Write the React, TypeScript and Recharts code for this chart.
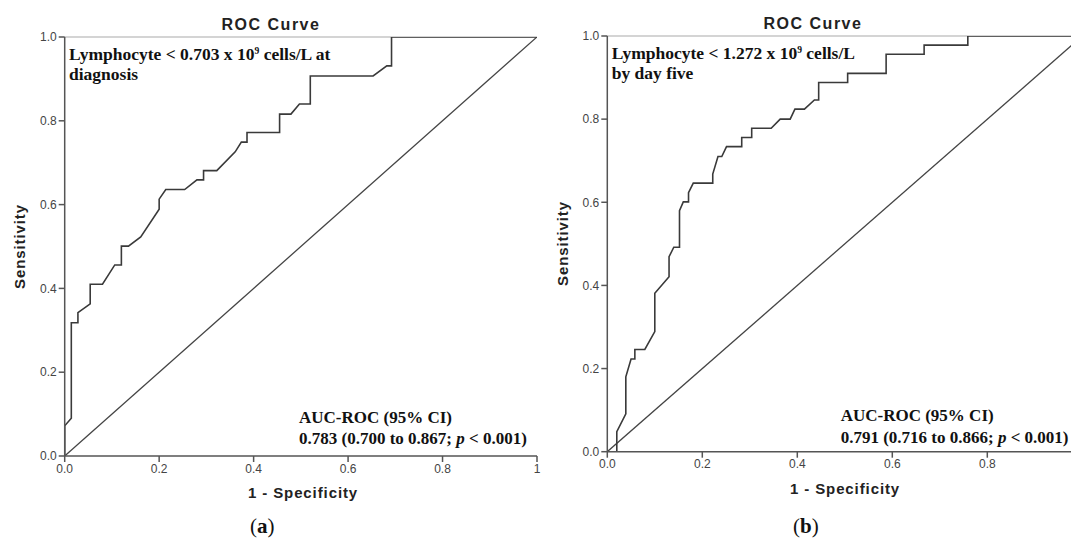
import { LineChart, Line, XAxis, YAxis, ReferenceLine } from 'recharts';

const axisTicks = [0, 0.2, 0.4, 0.6, 0.8, 1];
// the right-hand panel is cut at the page edge before its last tick
const axisTicksB = [0, 0.2, 0.4, 0.6, 0.8];

// (a) lymphocyte count at diagnosis
const fprA = [0, 0, 0.014, 0.014, 0.028, 0.028, 0.054, 0.054, 0.08, 0.106, 0.12, 0.12, 0.135, 0.161, 0.2, 0.2, 0.214, 0.254, 0.28, 0.294, 0.294, 0.322, 0.361, 0.374, 0.386, 0.386, 0.455, 0.455, 0.479, 0.497, 0.52, 0.52, 0.653, 0.682, 0.692, 0.692, 1];
const tprA = [0, 0.072, 0.09, 0.318, 0.318, 0.342, 0.363, 0.41, 0.41, 0.456, 0.456, 0.501, 0.501, 0.523, 0.589, 0.613, 0.636, 0.636, 0.659, 0.659, 0.681, 0.681, 0.726, 0.749, 0.749, 0.772, 0.772, 0.816, 0.816, 0.84, 0.84, 0.907, 0.907, 0.931, 0.931, 1, 1];

// (b) lymphocyte count by day five
const fprB = [0, 0.02, 0.02, 0.039, 0.039, 0.05, 0.058, 0.058, 0.079, 0.1, 0.1, 0.13, 0.13, 0.14, 0.152, 0.152, 0.16, 0.171, 0.171, 0.181, 0.222, 0.222, 0.233, 0.241, 0.251, 0.283, 0.283, 0.304, 0.304, 0.345, 0.364, 0.385, 0.395, 0.415, 0.436, 0.445, 0.445, 0.506, 0.506, 0.587, 0.587, 0.667, 0.667, 0.759, 0.759, 1];
const tprB = [0, 0, 0.048, 0.091, 0.18, 0.223, 0.223, 0.246, 0.246, 0.289, 0.381, 0.421, 0.469, 0.492, 0.492, 0.58, 0.601, 0.601, 0.623, 0.646, 0.646, 0.668, 0.71, 0.71, 0.734, 0.734, 0.756, 0.756, 0.778, 0.778, 0.8, 0.8, 0.824, 0.824, 0.846, 0.846, 0.888, 0.888, 0.91, 0.91, 0.956, 0.956, 0.978, 0.978, 1, 1];

// reference (chance) line
const chanceX = [0, 1];
const chanceY = [0, 1];

const toPoints = (xs: number[], ys: number[]) => xs.map((x, i) => ({ x, y: ys[i] }));

const sans = '"Liberation Sans", Arial, Helvetica, sans-serif';
const serif = '"Palatino Linotype", Palatino, "Book Antiqua", "Liberation Serif", serif';

const tickStyle = { fill: '#444', fontSize: 12, fontFamily: sans };

type PanelProps = {
  left: number;
  width: number;
  margin: { top: number; right: number; bottom: number; left: number };
  fpr: number[];
  tpr: number[];
  xTicks: number[];
  xFormat: (v: number) => string;
};

function RocPanel({ left, width, margin, fpr, tpr, xTicks, xFormat }: PanelProps) {
  return (
    <div style={{ position: 'absolute', left, top: 0 }}>
      <LineChart width={width} height={541} data={toPoints(fpr, tpr)} margin={margin}>
        <XAxis
          dataKey="x"
          type="number"
          domain={[0, 1]}
          ticks={xTicks}
          tickFormatter={xFormat}
          height={30}
          tickSize={6}
          tickMargin={2}
          tick={tickStyle}
          stroke="#555"
          strokeWidth={1.5}
          allowDataOverflow
        />
        <YAxis
          type="number"
          domain={[0, 1]}
          ticks={axisTicks}
          tickFormatter={(v: number) => v.toFixed(1)}
          width={40}
          tickSize={6}
          tickMargin={2}
          tick={tickStyle}
          stroke="#555"
          strokeWidth={1.5}
          allowDataOverflow
        />
        <ReferenceLine y={1} stroke="#aaa" strokeWidth={1.2} />
        <Line
          data={toPoints(chanceX, chanceY)}
          dataKey="y"
          type="linear"
          stroke="#444"
          strokeWidth={1.3}
          dot={false}
          isAnimationActive={false}
        />
        <Line
          dataKey="y"
          type="linear"
          stroke="#3a3a3a"
          strokeWidth={1.6}
          dot={false}
          isAnimationActive={false}
        />
      </LineChart>
    </div>
  );
}

const titleStyle = {
  position: 'absolute' as const,
  width: 200,
  textAlign: 'center' as const,
  fontFamily: sans,
  fontWeight: 'bold' as const,
  fontSize: 16,
  lineHeight: '16px',
  letterSpacing: 1.5,
  color: '#222',
};

const axisLabelStyle = {
  position: 'absolute' as const,
  width: 160,
  textAlign: 'center' as const,
  fontFamily: sans,
  fontWeight: 'bold' as const,
  fontSize: 15,
  lineHeight: '15px',
  letterSpacing: 0.9,
  color: '#222',
  whiteSpace: 'nowrap' as const,
};

const noteStyle = {
  position: 'absolute' as const,
  fontFamily: serif,
  fontWeight: 'bold' as const,
  fontSize: 17.5,
  whiteSpace: 'nowrap' as const,
  color: '#111',
};

const sup = { fontSize: '0.55em', verticalAlign: '0.6em' };

export default function App() {
  return (
    <div
      style={{
        position: 'fixed',
        left: 0,
        top: 0,
        width: 1071,
        height: 541,
        overflow: 'hidden',
        background: '#fff',
      }}
    >
      <RocPanel
        left={0}
        width={560}
        margin={{ top: 37, right: 23, bottom: 55, left: 24.7 }}
        fpr={fprA}
        tpr={tprA}
        xTicks={axisTicks}
        xFormat={(v: number) => (v === 1 ? '1' : v.toFixed(1))}
      />
      <RocPanel
        left={540}
        width={600}
        margin={{ top: 36, right: 57.7, bottom: 59.3, left: 27.3 }}
        fpr={fprB}
        tpr={tprB}
        xTicks={axisTicksB}
        xFormat={(v: number) => v.toFixed(1)}
      />

      {/* titles */}
      <div style={{ ...titleStyle, left: 171, top: 16.5 }}>ROC Curve</div>
      <div style={{ ...titleStyle, left: 713, top: 15.8 }}>ROC Curve</div>

      {/* axis titles */}
      <div style={{ ...axisLabelStyle, left: 223, top: 485.3 }}>1 - Specificity</div>
      <div style={{ ...axisLabelStyle, left: 765, top: 481.3 }}>1 - Specificity</div>
      <div style={{ ...axisLabelStyle, width: 120, left: -41, top: 238.5, transform: 'rotate(-90deg)' }}>
        Sensitivity
      </div>
      <div style={{ ...axisLabelStyle, width: 120, left: 502, top: 235.5, transform: 'rotate(-90deg)' }}>
        Sensitivity
      </div>

      {/* cut-off notes */}
      <div style={{ ...noteStyle, left: 69, top: 40.5, lineHeight: '20.5px' }}>
        Lymphocyte &lt; 0.703 x 10<span style={sup}>9</span> cells/L at
        <br />
        diagnosis
      </div>
      <div style={{ ...noteStyle, left: 611.7, top: 39.5, lineHeight: '20.5px' }}>
        Lymphocyte &lt; 1.272 x 10<span style={sup}>9</span> cells/L
        <br />
        by day five
      </div>

      {/* AUC notes */}
      <div style={{ ...noteStyle, fontSize: 17, left: 299, top: 406.8, lineHeight: '21.5px' }}>
        AUC-ROC (95% CI)
        <br />
        0.783 (0.700 to 0.867; <i>p</i> &lt; 0.001)
      </div>
      <div style={{ ...noteStyle, fontSize: 17, left: 840.7, top: 405.2, lineHeight: '21.5px' }}>
        AUC-ROC (95% CI)
        <br />
        0.791 (0.716 to 0.866; <i>p</i> &lt; 0.001)
      </div>

      {/* panel letters */}
      <div style={{ position: 'absolute', left: 250, top: 516, fontFamily: serif, fontSize: 21, lineHeight: '20px', color: '#111' }}>
        (<b>a</b>)
      </div>
      <div style={{ position: 'absolute', left: 793, top: 516, fontFamily: serif, fontSize: 21, lineHeight: '20px', color: '#111' }}>
        (<b>b</b>)
      </div>
    </div>
  );
}
